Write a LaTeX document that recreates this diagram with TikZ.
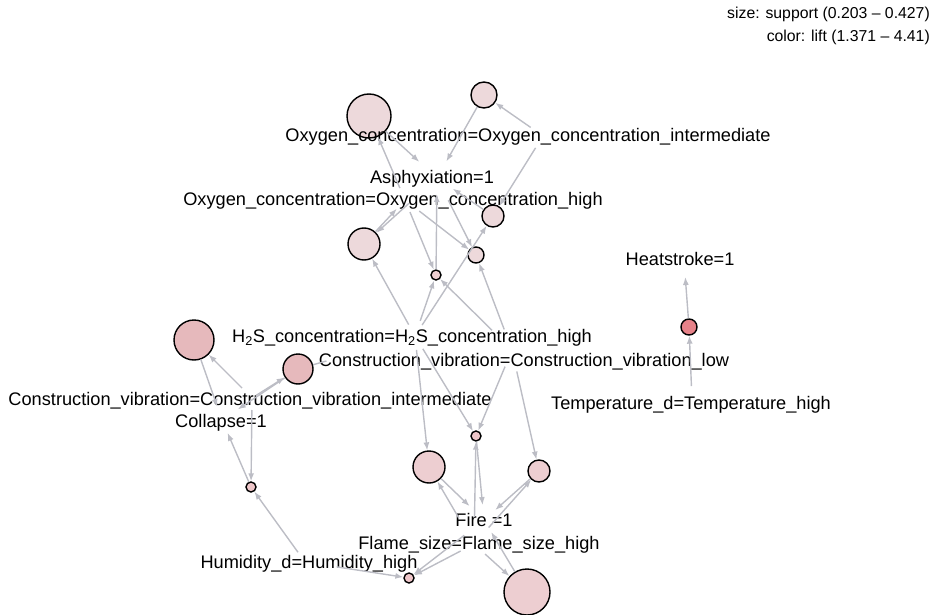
\documentclass[tikz,border=0pt]{standalone}
\usepackage{xcolor}
\usepackage{fontspec}
\setmainfont{Liberation Sans}
\usepackage{tikz}
\usetikzlibrary{arrows.meta}
\usetikzlibrary{shapes}

\definecolor{linkgray}{RGB}{188,189,197}
\definecolor{liftlow}{RGB}{237,217,219}
\definecolor{liftmid}{RGB}{237,206,209}
\definecolor{liftmore}{RGB}{238,198,201}
\definecolor{lifthigh}{RGB}{230,185,188}
\definecolor{lifttop}{RGB}{230,130,137}

\begin{document}
\begin{tikzpicture}[x=1pt, y=-1pt,
  ruledot/.style={circle, draw=black, line width=1.4pt, inner sep=0pt, minimum size=#1},
  itemlabel/.style={anchor=base, inner sep=0pt, font=\fontsize{18.2}{21}\selectfont},
  link/.style={-{Latex[length=8pt,width=6pt]}, draw=linkgray, line width=1.4pt},
  inlink/.style={link, shorten <=#1}, inlink/.default=15pt,
  outlink/.style={link, shorten >=#1}, outlink/.default=19pt]
\path [use as bounding box] (0,0) rectangle (934,615);

% item vertices
\coordinate (asph) at (437,178);
\coordinate (oxyhigh) at (405,200);
\coordinate (oxyint) at (543,136);
\coordinate (h2s) at (415,336);
\coordinate (cvlow) at (512,350);
\coordinate (cvint) at (252,398);
\coordinate (collapse) at (222,420);
\coordinate (fire) at (484,520);
\coordinate (flame) at (474,544);
\coordinate (humid) at (305,562);
\coordinate (heat) at (684,260);
\coordinate (temp) at (692,400);

% rules
\node [ruledot=44pt, fill=liftlow] (R1) at (369,116) {};
\node [ruledot=26pt, fill=liftlow] (R2) at (484,95) {};
\node [ruledot=22pt, fill=liftlow] (R3) at (493,216) {};
\node [ruledot=32pt, fill=liftlow] (R4) at (364,244) {};
\node [ruledot=16pt, fill=liftlow] (R5) at (476,255) {};
\node [ruledot=10pt, fill=liftmid] (R6) at (436,275) {};
\node [ruledot=40pt, fill=lifthigh] (R7) at (194,340) {};
\node [ruledot=30pt, fill=lifthigh] (R8) at (298,369) {};
\node [ruledot=16pt, fill=lifttop] (R9) at (689,327) {};
\node [ruledot=10pt, fill=liftmore] (R10) at (476,436) {};
\node [ruledot=32pt, fill=liftmid] (R11) at (429,467) {};
\node [ruledot=22pt, fill=liftmid] (R12) at (539,471) {};
\node [ruledot=10pt, fill=liftmore] (R13) at (251,487) {};
\node [ruledot=10pt, fill=liftmore] (R14) at (409,578) {};
\node [ruledot=46pt, fill=liftmid] (R15) at (527,592) {};

% items
\node [itemlabel] (oxyinttext) at (528,141.5) {Oxygen\_concentration=Oxygen\_concentration\_intermediate};
\node [itemlabel] (asphtext) at (432,183.5) {Asphyxiation=1};
\node [itemlabel] (oxyhightext) at (393,205.5) {Oxygen\_concentration=Oxygen\_concentration\_high};
\node [itemlabel] (h2stext) at (412,342.5) {H\textsubscript{2}S\_concentration=H\textsubscript{2}S\_concentration\_high};
\node [itemlabel] (cvlowtext) at (524,366.5) {Construction\_vibration=Construction\_vibration\_low};
\node [itemlabel] (cvinttext) at (250,405.5) {Construction\_vibration=Construction\_vibration\_intermediate};
\node [itemlabel] (collapsetext) at (221,427.5) {Collapse=1};
\node [itemlabel] (heattext) at (680,265.5) {Heatstroke=1};
\node [itemlabel] (temptext) at (691,409.5) {Temperature\_d=Temperature\_high};
\node [itemlabel] (firetext) at (484,526.5) {Fire =1};
\node [itemlabel] (flametext) at (479,549.5) {Flame\_size=Flame\_size\_high};
\node [itemlabel] (humidtext) at (309,568.5) {Humidity\_d=Humidity\_high};

\node [anchor=north east, align=right, inner sep=0pt, font=\fontsize{15.8}{23}\selectfont] (legend) at (930,7)
  {size: support (0.203 -- 0.427)\\color: lift (1.371 -- 4.41)};

% Asphyxiation rules
\draw [inlink=13pt] (oxyhigh) to (R1);
\draw [outlink=24pt] (R1) to (asph);
\draw [inlink=15pt] (oxyint) to (R2);
\draw [outlink] (R2) to (asph);
\draw [inlink=14pt] (oxyint) to (R3);
\draw [inlink=13pt] (h2s) to (R3);
\draw [outlink] (R3) to (asph);
\draw [inlink=38pt] (asph) to (R4);
\draw [outlink=12pt] (R4) to (oxyhigh);
\draw [inlink=13pt] (h2s) to (R4);
\draw [inlink=25pt] (asph) to (R5);
\draw [inlink=18pt] (oxyhigh) to (R5);
\draw [inlink=22pt] (cvlow) to (R5);
\draw [inlink=13pt] (oxyhigh) to (R6);
\draw [inlink=16pt] (h2s) to (R6);
\draw [inlink=28pt] (cvlow) to (R6);
\draw [outlink=16pt] (R6) to (asph);

% Collapse rules
\draw [inlink=14pt] (cvint) to (R7);
\draw [outlink=14pt] (R7) to (collapse);
\draw [inlink=5pt] (cvint) to (R8);
\draw [outlink] (R8) to (collapse);
\draw [draw=linkgray, line width=1.4pt, shorten >=92pt] (R8) to (h2s);
\draw [inlink=12pt] (cvint) to (R13);
\draw [inlink=12pt] (humid) to (R13);
\draw [outlink=14pt] (R13) to (collapse);

% Fire rules
\draw [inlink=14pt] (h2s) to (R11);
\draw [inlink=15pt] (h2s) to (R10);
\draw [inlink=18pt] (cvlow) to (R10);
\draw [inlink=22pt] (cvlow) to (R12);
\draw [outlink=15pt] (R10) to (fire);
\draw [inlink=27pt] (flame) to (R10);
\draw [outlink=20pt] (R11) to (fire);
\draw [inlink=30pt] (flame) to (R11);
\draw [outlink=15pt] (R12) to (fire);
\draw [inlink=22pt] (flame) to (R12);
\draw [inlink=25pt] (fire) to (R14);
\draw [inlink=15pt] (flame) to (R14);
\draw [inlink=32pt] (humid) to (R14);
\draw [inlink=15pt] (flame) to (R15);
\draw [outlink=14pt] (R15) to (fire);

% Heatstroke rule
\draw [inlink=14pt] (temp) to (R9);
\draw [outlink=17pt] (R9) to (heat);
\end{tikzpicture}
\end{document}
